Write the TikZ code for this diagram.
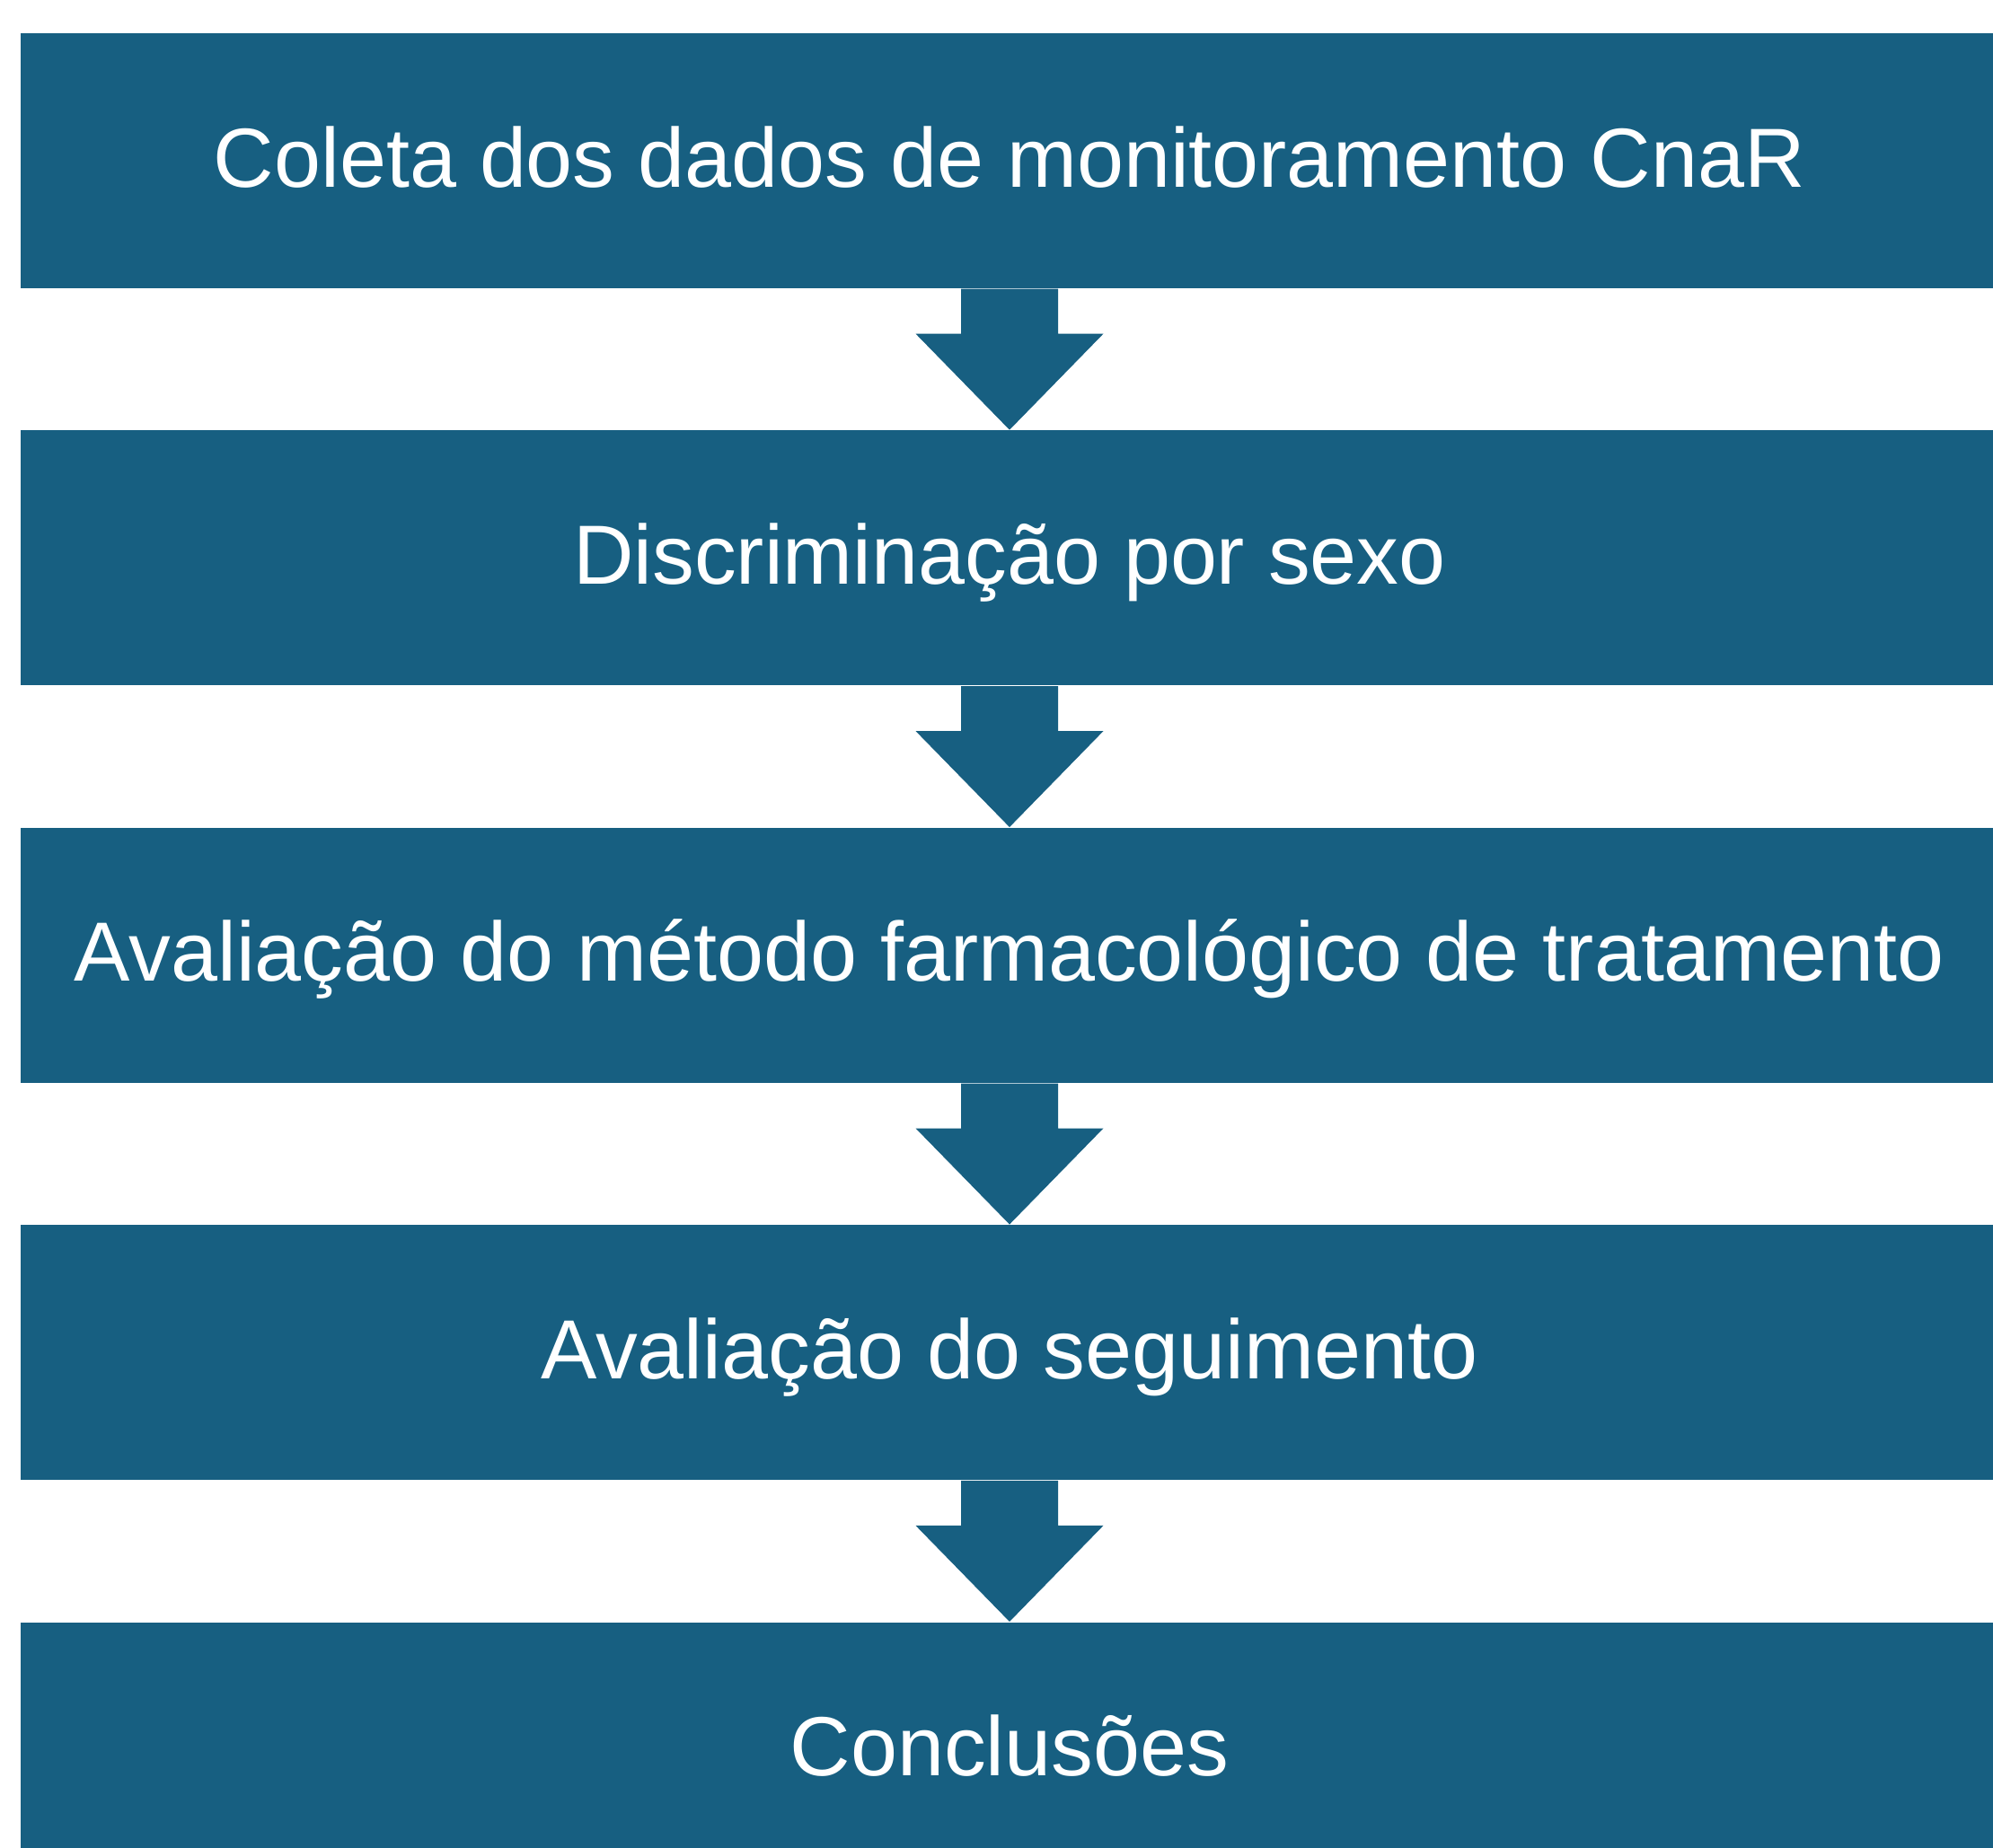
\documentclass[tikz,border=0pt]{standalone}
\usepackage{fontspec}
\setmainfont{Liberation Sans}
\usepackage{xcolor}
\usetikzlibrary{positioning}
\definecolor{stepblue}{HTML}{175F81}

\begin{document}
\begin{tikzpicture}[
    stepbox/.style={rectangle, fill=stepblue, text=white, inner sep=0pt,
        minimum width=22.02cm, text height=1.71cm, text depth=1.13cm,
        font=\fontsize{26.6}{32}\selectfont},
    node distance=1.57cm
  ]
  \useasboundingbox (0,0) rectangle (22.19,-20.58);

  \node[stepbox] (coleta) at (11.24,-1.79) {Coleta dos dados de monitoramento CnaR};
  \node[stepbox, below=of coleta] (sexo) {Discriminação por sexo};
  \node[stepbox, below=of sexo] (metodo) {Avaliação do método farmacológico de tratamento};
  \node[stepbox, below=of metodo] (seguimento) {Avaliação do seguimento};
  \node[stepbox, below=of seguimento] (conclusoes) {Conclusões};

  % block arrows between the steps
  \foreach \a/\b in {coleta/sexo, sexo/metodo, metodo/seguimento, seguimento/conclusoes}
    \fill[stepblue] ([xshift=-0.54cm]\a.south) -- ++(0,-0.5) -- ++(-0.505,0)
      -- (\b.north) -- ([xshift=1.045cm,yshift=-0.5cm]\a.south)
      -- ++(-0.505,0) -- ([xshift=0.54cm]\a.south) -- cycle;
\end{tikzpicture}
\end{document}
